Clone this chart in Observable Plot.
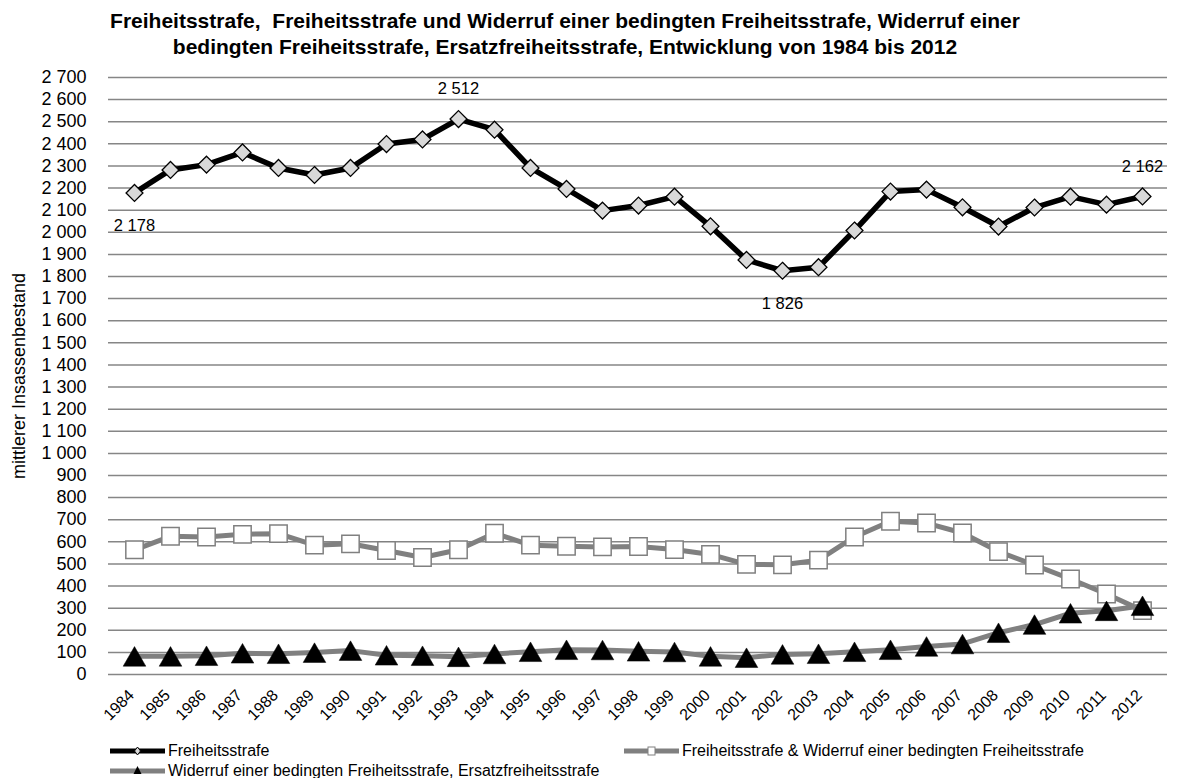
<!DOCTYPE html>
<html>
<head>
<meta charset="utf-8">
<script src="https://cdn.jsdelivr.net/npm/d3@7"></script>
<script src="https://cdn.jsdelivr.net/npm/@observablehq/plot@0.6"></script>
<style>
  html, body { margin: 0; padding: 0; background: #fff; }
  body { font-family: "Liberation Sans", Arial, sans-serif; color: #000; width: 1177px; height: 778px; overflow: hidden; position: relative; }
  #title { position: absolute; left: 0; top: 8px; width: 1130px; text-align: center; font-weight: bold; font-size: 21px; line-height: 26px; }
  #chart { position: absolute; left: 0; top: 60px; }
  #legend { position: absolute; left: 0; top: 741px; width: 1177px; font-size: 16px; }
  .item { position: absolute; display: flex; align-items: center; white-space: nowrap; height: 20px; }
  .item svg { margin-right: 3px; }
</style>
</head>
<body>
<div id="title">Freiheitsstrafe,&nbsp; Freiheitsstrafe und Widerruf einer bedingten Freiheitsstrafe, Widerruf einer<br>bedingten Freiheitsstrafe, Ersatzfreiheitsstrafe, Entwicklung von 1984 bis 2012</div>
<div id="chart"></div>
<div id="legend"></div>
<script>
const years = [1984,1985,1986,1987,1988,1989,1990,1991,1992,1993,1994,1995,1996,1997,1998,1999,2000,2001,2002,2003,2004,2005,2006,2007,2008,2009,2010,2011,2012];
const freiheitsstrafe = [2178,2282,2306,2361,2291,2259,2291,2399,2420,2512,2464,2291,2196,2098,2121,2161,2027,1875,1826,1842,2008,2184,2193,2113,2026,2112,2161,2125,2162];
const freiheitsstrafeWiderruf = [564,625,622,634,637,585,591,561,529,564,639,585,580,577,579,565,543,498,496,517,622,693,685,640,556,495,432,364,289];
const widerrufErsatz = [82,82,85,96,94,99,108,87,85,80,93,103,112,111,105,102,82,76,91,94,103,112,127,138,189,226,277,288,311];
const seriesNames = ["Freiheitsstrafe", "Freiheitsstrafe & Widerruf einer bedingten Freiheitsstrafe", "Widerruf einer bedingten Freiheitsstrafe, Ersatzfreiheitsstrafe"];
const yAxisLabel = "mittlerer Insassenbestand";
const yTicks = d3.range(0, 2701, 100);
const labelsBelow = [1984, 2002];
const labelsAbove = [1993, 2012];

const fmt = v => v >= 1000 ? Math.floor(v / 1000) + " " + String(v % 1000).padStart(3, "0") : String(v);

const s1 = years.map((y, i) => ({year: y, value: freiheitsstrafe[i]}));
const s2 = years.map((y, i) => ({year: y, value: freiheitsstrafeWiderruf[i]}));
const s3 = years.map((y, i) => ({year: y, value: widerrufErsatz[i]}));

const plot = Plot.plot({
  width: 1177,
  height: 680,
  marginLeft: 108,
  marginRight: 10,
  marginTop: 17,
  marginBottom: 66,
  style: {fontFamily: "'Liberation Sans', Arial, sans-serif", fontSize: "16px", color: "#000", background: "#fff"},
  x: {type: "point", domain: years, padding: 0.5},
  y: {domain: [0, 2700]},
  marks: [
    Plot.ruleY(yTicks, {stroke: "#868686", strokeWidth: 1.5}),
    Plot.axisY({ticks: yTicks, tickFormat: fmt, tickSize: 0, tickPadding: 22, fontSize: 18, label: null}),
    Plot.axisX({tickRotate: -45, tickSize: 0, tickPadding: 18, dx: -3, fontSize: 16, label: null, tickFormat: d => String(d)}),
    Plot.text([yAxisLabel], {frameAnchor: "left", rotate: -90, dx: -89, fontSize: 18, textAnchor: "middle", text: d => d}),
    Plot.line(s1, {x: "year", y: "value", stroke: "#000", strokeWidth: 5.5, strokeLinejoin: "round"}),
    Plot.dot(s1, {x: "year", y: "value", symbol: "diamond2", r: 7.6, fill: "#d9d9d9", stroke: "#000", strokeWidth: 1.3}),
    Plot.line(s2, {x: "year", y: "value", stroke: "#808080", strokeWidth: 5, strokeLinejoin: "round"}),
    Plot.dot(s2, {x: "year", y: "value", symbol: "square", r: 9.8, fill: "#fff", stroke: "#808080", strokeWidth: 1.5}),
    Plot.line(s3, {x: "year", y: "value", stroke: "#808080", strokeWidth: 5, strokeLinejoin: "round"}),
    Plot.dot(s3, {x: "year", y: "value", symbol: "triangle", r: 8.4, fill: "#000", stroke: "#000", strokeWidth: 0.5, dy: 3.3}),
    Plot.text(s1.filter(d => labelsBelow.includes(d.year)), {x: "year", y: "value", text: d => fmt(d.value), fontSize: 16.5, dy: 33}),
    Plot.text(s1.filter(d => labelsAbove.includes(d.year)), {x: "year", y: "value", text: d => fmt(d.value), fontSize: 16.5, dy: -30})
  ]
});
document.getElementById("chart").appendChild(plot);

// legend
const legend = document.getElementById("legend");
const items = [
  {name: seriesNames[0], left: 110, top: 0, stroke: "#000", marker: "diamond"},
  {name: seriesNames[1], left: 624, top: 0, stroke: "#808080", marker: "square"},
  {name: seriesNames[2], left: 110, top: 20, stroke: "#808080", marker: "triangle"}
];
for (const it of items) {
  const div = document.createElement("div");
  div.className = "item";
  div.style.left = it.left + "px";
  div.style.top = it.top + "px";
  let m = "";
  if (it.marker === "diamond") m = '<path d="M27.5,6 L30.5,10 L27.5,14 L24.5,10 Z" fill="#d9d9d9" stroke="#000" stroke-width="1"/>';
  if (it.marker === "square") m = '<rect x="24" y="6" width="7" height="8" fill="#fff" stroke="#808080" stroke-width="1"/>';
  if (it.marker === "triangle") m = '<path d="M27.5,5 L31.5,13 L23.5,13 Z" fill="#000"/>';
  div.innerHTML = `<svg width="55" height="20"><line x1="0" x2="55" y1="10" y2="10" stroke="${it.stroke}" stroke-width="5"/>${m}</svg><span>${it.name}</span>`;
  legend.appendChild(div);
}
</script>
</body>
</html>
